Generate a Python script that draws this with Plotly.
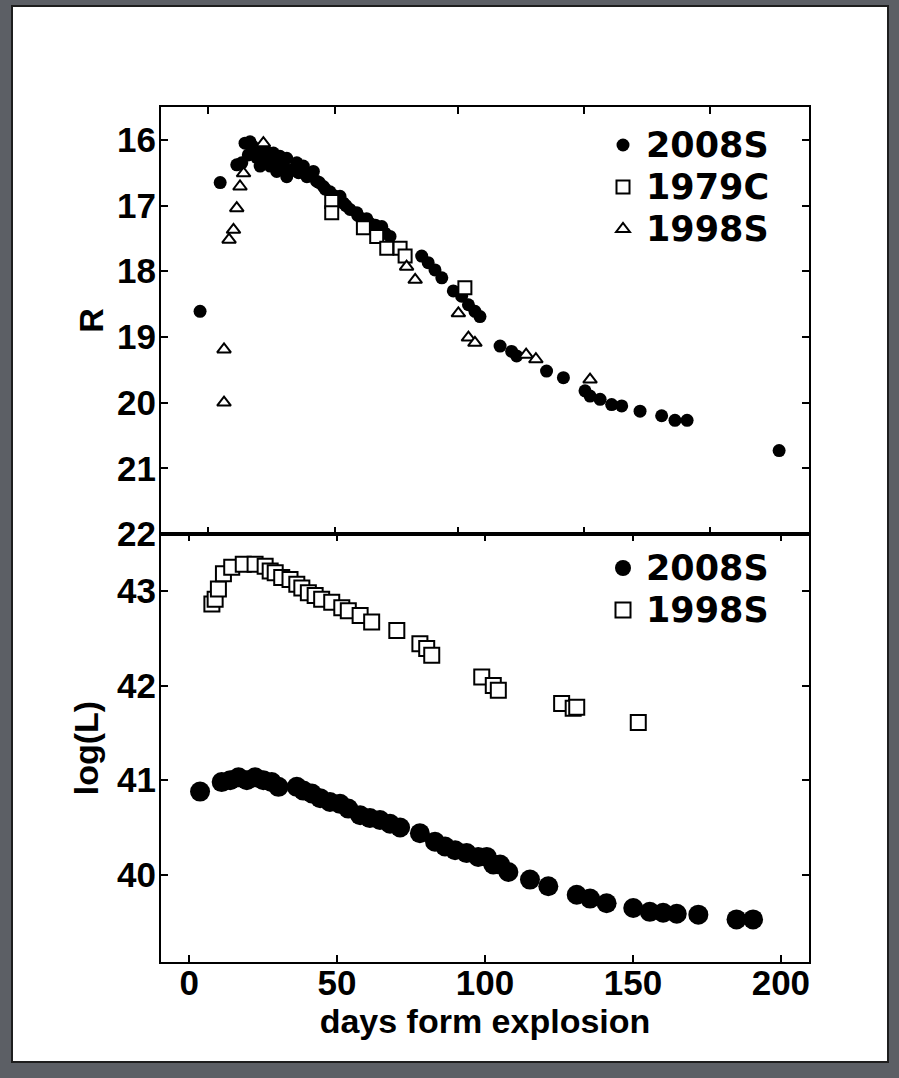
import plotly.graph_objects as go

# ---------------- data ----------------
# Top panel: R magnitude vs days from explosion
r08_days = [3.7, 10.5, 16.1, 17.8, 18.9, 20.6, 20.0, 21.5, 22.9, 23.0, 24.0, 24.5, 26.0, 26.2,
            27.4, 28.0, 28.5, 29.6, 30.7, 31.0, 31.8, 33.0, 33.0, 34.1, 35.0, 36.4, 37.0,
            38.6, 39.8, 41.0, 42.0, 43.1, 44.0, 45.4, 46.0, 47.6, 49.0, 51.0, 52.1, 53.0,
            54.4, 56.7, 57.0, 58.9, 60.0, 61.1, 63.0, 65.1, 66.2, 67.9, 78.6, 80.8, 83.1,
            85.4, 89.3, 92.1, 94.4, 96.6, 98.3, 105.1, 109.0, 110.7, 120.8, 126.5, 133.8,
            135.5, 138.9, 142.8, 146.2, 152.4, 159.7, 164.2, 168.3, 199.4]
r08_mag = [18.61, 16.65, 16.38, 16.35, 16.05, 16.03, 16.23, 16.10, 16.27, 16.15, 16.40, 16.30,
           16.33, 16.18, 16.40, 16.30, 16.20, 16.48, 16.25, 16.35, 16.40, 16.28, 16.56,
           16.48, 16.45, 16.35, 16.50, 16.40, 16.56, 16.55, 16.48, 16.63, 16.65, 16.71,
           16.75, 16.79, 16.85, 16.86, 16.96, 17.00, 17.06, 17.11, 17.15, 17.22, 17.20,
           17.27, 17.30, 17.32, 17.42, 17.47, 17.77, 17.87, 17.98, 18.10, 18.30, 18.38,
           18.51, 18.61, 18.69, 19.14, 19.22, 19.29, 19.52, 19.62, 19.82, 19.90, 19.95,
           20.03, 20.05, 20.13, 20.20, 20.27, 20.27, 20.73]

r79_days = [48.2, 48.2, 58.9, 63.4, 66.8, 71.3, 73.0, 93.2]
r79_mag = [16.94, 17.11, 17.34, 17.47, 17.65, 17.65, 17.77, 18.25]

r98_days = [11.8, 11.8, 13.5, 15.0, 16.1, 17.2, 18.4, 25.1, 73.5, 76.4, 91.0, 94.4, 96.6,
            113.9, 117.2, 135.5]
r98_mag = [19.19, 20.00, 17.52, 17.37, 17.04, 16.71, 16.51, 16.05, 17.93, 18.13, 18.64,
           19.01, 19.09, 19.27, 19.34, 19.65]

# Bottom panel: log(L) vs days from explosion
l08_days = [3.7, 11.0, 13.9, 16.7, 19.5, 22.3, 25.1, 27.9, 30.2, 36.4, 38.6, 41.5, 44.3,
            47.6, 51.0, 53.8, 57.8, 61.1, 64.5, 67.9, 71.3, 78.0, 83.1, 86.5, 89.9, 93.8,
            97.7, 100.6, 102.8, 105.1, 107.9, 115.2, 121.4, 131.0, 135.5, 141.1, 150.1,
            155.7, 160.2, 164.8, 172.1, 185.0, 190.6]
l08_logl = [40.88, 40.98, 41.00, 41.03, 41.00, 41.03, 41.00, 40.98, 40.93, 40.93, 40.89,
            40.86, 40.81, 40.77, 40.75, 40.70, 40.63, 40.60, 40.58, 40.54, 40.50, 40.44,
            40.35, 40.30, 40.26, 40.23, 40.19, 40.19, 40.11, 40.11, 40.03, 39.95, 39.88,
            39.79, 39.75, 39.70, 39.65, 39.61, 39.60, 39.59, 39.58, 39.53, 39.53]

l98_days = [7.7, 8.8, 9.9, 11.6, 14.4, 18.3, 22.3, 25.7, 27.4, 29.1, 31.3, 34.1, 36.4, 38.1,
            40.3, 42.6, 44.8, 48.2, 51.6, 53.8, 57.8, 61.7, 70.2, 78.0, 80.3, 82.0, 98.9,
            102.8, 104.5, 125.9, 129.8, 131.0, 151.8]
l98_logl = [42.86, 42.91, 43.02, 43.18, 43.25, 43.28, 43.28, 43.26, 43.21, 43.19, 43.14,
            43.12, 43.07, 43.03, 42.98, 42.95, 42.91, 42.88, 42.82, 42.79, 42.74, 42.67,
            42.58, 42.44, 42.39, 42.32, 42.09, 42.00, 41.95, 41.81, 41.76, 41.77, 41.61]

x_ticks = [0, 50, 100, 150, 200]
top_x_ticks = [6.4, 49.3, 90.9, 133.4, 176.0]
r_ticks = [16, 17, 18, 19, 20, 21, 22]
l_ticks = [40, 41, 42, 43]

# ---------------- figure ----------------
W, H = 899, 1078
ML, MR, MT, MB = 161, 90, 107, 116
PW, PH = W - ML - MR, H - MT - MB
FONT = "Liberation Sans"
LEGFONT = "DejaVu Sans"


def legname(s):
    return "<span style='font-size:35px'>" + s + "</span>"


fig = go.Figure()

fig.add_trace(go.Scatter(x=r08_days, y=r08_mag, mode="markers", name=legname("2008S"),
                         xaxis="x2", yaxis="y2", legend="legend",
                         marker=dict(symbol="circle", size=13, color="black",
                                     line=dict(width=0))))
fig.add_trace(go.Scatter(x=r79_days, y=r79_mag, mode="markers", name=legname("1979C"),
                         xaxis="x2", yaxis="y2", legend="legend",
                         marker=dict(symbol="square", size=13, color="white",
                                     line=dict(width=2, color="black"))))
fig.add_trace(go.Scatter(x=r98_days, y=r98_mag, mode="markers", name=legname("1998S"),
                         xaxis="x2", yaxis="y2", legend="legend",
                         marker=dict(symbol="triangle-up", size=12, color="white",
                                     line=dict(width=2, color="black"))))

fig.add_trace(go.Scatter(x=l08_days, y=l08_logl, mode="markers", name=legname("2008S"),
                         xaxis="x", yaxis="y", legend="legend2",
                         marker=dict(symbol="circle", size=20, color="black",
                                     line=dict(width=0))))
fig.add_trace(go.Scatter(x=l98_days, y=l98_logl, mode="markers", name=legname("1998S"),
                         xaxis="x", yaxis="y", legend="legend2",
                         marker=dict(symbol="square", size=15, color="white",
                                     line=dict(width=2, color="black"))))

split = (962 - 534) / PH
xrange_ = [-9.5, 209.5]
tickfont = dict(family=FONT, size=35, color="black", weight="bold")
titlefont = dict(family=FONT, size=34, color="black", weight="bold")

common_axis = dict(showline=True, linecolor="black", linewidth=2, mirror="ticks",
                   ticks="inside", ticklen=7, tickwidth=2, tickcolor="black",
                   showgrid=False, zeroline=False, tickfont=tickfont)

legfont = dict(family=LEGFONT, size=30, color="black", weight="bold")

fig.update_layout(
    width=W, height=H,
    margin=dict(l=ML, r=MR, t=MT, b=MB),
    paper_bgcolor="#5c5f65",
    plot_bgcolor="white",
    font=dict(family=FONT, color="black"),
    xaxis=dict(domain=[0, 1], anchor="y", range=xrange_, tickvals=x_ticks,
               ticklabelstandoff=-11,
               title=dict(text="days form explosion", font=titlefont, standoff=0),
               **common_axis),
    yaxis=dict(domain=[0, split], anchor="x", range=[39.08, 43.6], tickvals=l_ticks,
               ticklabelstandoff=-4,
               title=dict(text="log(L)", font=titlefont, standoff=8),
               **common_axis),
    xaxis2=dict(domain=[0, 1], anchor="y2", range=xrange_, tickvals=top_x_ticks,
                showticklabels=False, **common_axis),
    yaxis2=dict(domain=[split, 1], anchor="x2", range=[22, 15.5], tickvals=r_ticks,
                ticklabelstandoff=-4,
                title=dict(text="R", font=titlefont, standoff=3),
                **common_axis),
    legend=dict(x=(600 - ML) / PW, xanchor="left", y=(962 - 119) / PH, yanchor="top",
                bgcolor="rgba(0,0,0,0)", borderwidth=0, itemwidth=36, font=legfont),
    legend2=dict(x=(600 - ML) / PW, xanchor="left", y=(962 - 542) / PH, yanchor="top",
                 bgcolor="rgba(0,0,0,0)", borderwidth=0, itemwidth=36, font=legfont),
    showlegend=True,
)

# white slide panel behind the chart
fig.add_shape(type="rect", xref="paper", yref="paper", layer="below",
              x0=(12 - ML) / PW, x1=(888 - ML) / PW,
              y0=(962 - 1062) / PH, y1=(962 - 6) / PH,
              fillcolor="white", line=dict(color="#1e1e1e", width=2))

fig.write_html("out.html")
